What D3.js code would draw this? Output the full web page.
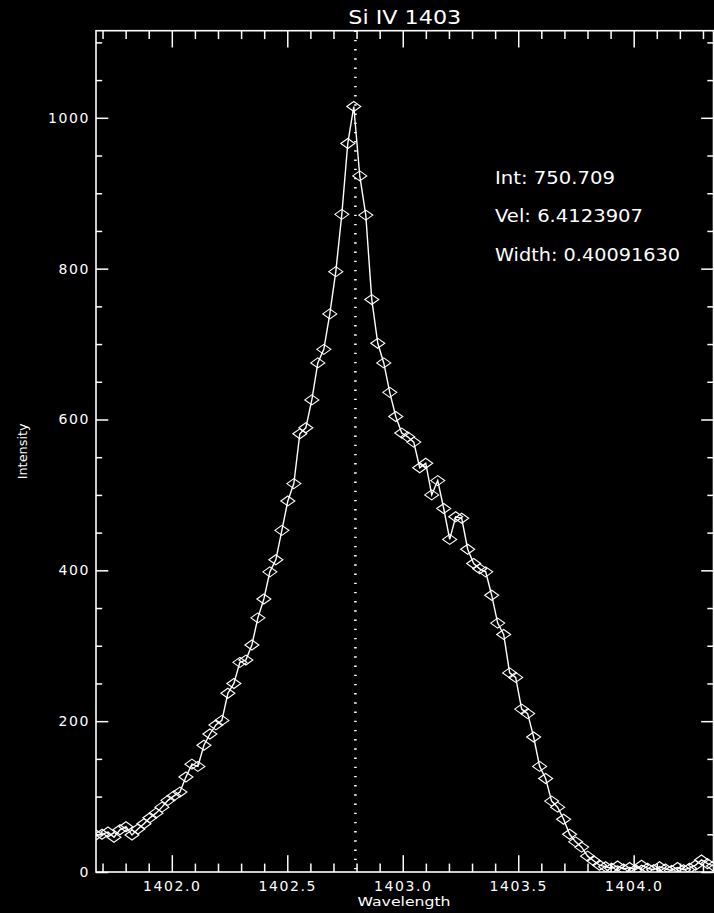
<!DOCTYPE html>
<html>
<head>
<meta charset="utf-8">
<script src="https://cdn.jsdelivr.net/npm/d3@7"></script>
<style>
  html, body { margin: 0; padding: 0; background: #000; }
  svg { display: block; }
  text { font-family: "DejaVu Sans", sans-serif; fill: #fff; }
</style>
</head>
<body>
<svg id="chart" width="714" height="913"></svg>
<script>
// ---- data ----
const wavelength = [
  1401.6717, 1401.6977, 1401.7236, 1401.7496, 1401.7755, 1401.8015, 1401.8275, 1401.8534,
  1401.8794, 1401.9053, 1401.9313, 1401.9573, 1401.9832, 1402.0092, 1402.0351, 1402.0611,
  1402.0871, 1402.1130, 1402.1390, 1402.1649, 1402.1909, 1402.2169, 1402.2428, 1402.2688,
  1402.2947, 1402.3207, 1402.3467, 1402.3726, 1402.3986, 1402.4245, 1402.4505, 1402.4765,
  1402.5024, 1402.5284, 1402.5543, 1402.5803, 1402.6063, 1402.6322, 1402.6582, 1402.6841,
  1402.7101, 1402.7361, 1402.7620, 1402.7880, 1402.8139, 1402.8399, 1402.8659, 1402.8918,
  1402.9178, 1402.9437, 1402.9697, 1402.9957, 1403.0216, 1403.0476, 1403.0735, 1403.0995,
  1403.1255, 1403.1514, 1403.1774, 1403.2033, 1403.2293, 1403.2553, 1403.2812, 1403.3072,
  1403.3331, 1403.3591, 1403.3851, 1403.4110, 1403.4370, 1403.4629, 1403.4889, 1403.5149,
  1403.5408, 1403.5668, 1403.5927, 1403.6187, 1403.6447, 1403.6706, 1403.6966, 1403.7225,
  1403.7485, 1403.7745, 1403.8004, 1403.8264, 1403.8523, 1403.8783, 1403.9043, 1403.9302,
  1403.9562, 1403.9821, 1404.0081, 1404.0341, 1404.0600, 1404.0860, 1404.1119, 1404.1379,
  1404.1639, 1404.1898, 1404.2158, 1404.2417, 1404.2677, 1404.2937, 1404.3196, 1404.3456
];
const intensity = [
  49, 50, 53, 46, 56, 60, 49, 57, 64, 72, 78, 86, 95, 101, 106, 126,
  143, 140, 168, 183, 195, 201, 237, 250, 278, 281, 301, 337, 362, 398, 414, 453,
  492, 515, 581, 589, 626, 675, 693, 740, 796, 872, 966, 1015,
  923, 871, 759, 701, 675, 636, 604, 582, 577, 570, 536, 542, 500, 519, 482, 441,
  471, 469, 428, 409, 402, 398, 367, 330, 315, 264, 258, 216, 210, 179, 140, 124,
  94, 86, 70, 50, 40, 33, 21, 15, 9,
  7, 5, 8, 4, 6, 3, 9, 5, 3, 7, 4, 2, 6, 3, 5, 9, 16, 11, 8
];
const lineCenter = 1402.795;

const xDomain = [1401.6717, 1404.3456];
const yDomain = [0, 1115.5];
const xMajorTicks = [1402.0, 1402.5, 1403.0, 1403.5, 1404.0];
const xTickLabels = ["1402.0", "1402.5", "1403.0", "1403.5", "1404.0"];
const xMinorTicks = [1401.7, 1401.8, 1401.9, 1402.1, 1402.2, 1402.3, 1402.4, 1402.6, 1402.7, 1402.8, 1402.9,
                     1403.1, 1403.2, 1403.3, 1403.4, 1403.6, 1403.7, 1403.8, 1403.9, 1404.1, 1404.2, 1404.3];
const yMajorTicks = [0, 200, 400, 600, 800, 1000];
const yTickLabels = ["0", "200", "400", "600", "800", "1000"];
const yMinorTicks = [50, 100, 150, 250, 300, 350, 450, 500, 550, 650, 700, 750, 850, 900, 950, 1050, 1100];

const titleText = "Si IV 1403";
const xTitle = "Wavelength";
const yTitle = "Intensity";
const annotations = ["Int: 750.709", "Vel: 6.4123907", "Width: 0.40091630"];

// ---- layout ----
const L = 96, R = 713.5, T = 30.7, B = 872;
const svg = d3.select("#chart");
svg.append("rect").attr("width", 714).attr("height", 913).attr("fill", "#000");

const x = d3.scaleLinear().domain(xDomain).range([L, R]);
const y = d3.scaleLinear().domain(yDomain).range([B, T]);

const xTickLen = 16.8, yTickLen = 12.3;

function styleAxis(g) {
  g.select(".domain").remove();
  g.selectAll("line").attr("stroke", "#fff").attr("stroke-width", 1.5);
  g.selectAll("text").attr("fill", "#fff").style("font-size", "14px")
    .style("font-family", "'DejaVu Sans', sans-serif").style("letter-spacing", "1.6px");
}

// bottom
svg.append("g").attr("transform", `translate(0,${B})`)
  .call(d3.axisBottom(x).tickValues(xMajorTicks).tickSize(-xTickLen).tickPadding(9)
        .tickFormat((d, i) => xTickLabels[i]))
  .call(styleAxis);
svg.append("g").attr("transform", `translate(0,${B})`)
  .call(d3.axisBottom(x).tickValues(xMinorTicks).tickSize(-xTickLen / 2).tickFormat(""))
  .call(styleAxis);
// top
svg.append("g").attr("transform", `translate(0,${T})`)
  .call(d3.axisTop(x).tickValues(xMajorTicks).tickSize(-xTickLen).tickFormat(""))
  .call(styleAxis);
svg.append("g").attr("transform", `translate(0,${T})`)
  .call(d3.axisTop(x).tickValues(xMinorTicks).tickSize(-xTickLen / 2).tickFormat(""))
  .call(styleAxis);
// left
svg.append("g").attr("transform", `translate(${L},0)`)
  .call(d3.axisLeft(y).tickValues(yMajorTicks).tickSize(-yTickLen).tickPadding(6)
        .tickFormat((d, i) => yTickLabels[i]))
  .call(styleAxis);
svg.append("g").attr("transform", `translate(${L},0)`)
  .call(d3.axisLeft(y).tickValues(yMinorTicks).tickSize(-yTickLen / 2).tickFormat(""))
  .call(styleAxis);
// right
svg.append("g").attr("transform", `translate(${R},0)`)
  .call(d3.axisRight(y).tickValues(yMajorTicks).tickSize(-yTickLen).tickFormat(""))
  .call(styleAxis);
svg.append("g").attr("transform", `translate(${R},0)`)
  .call(d3.axisRight(y).tickValues(yMinorTicks).tickSize(-yTickLen / 2).tickFormat(""))
  .call(styleAxis);

// frame
svg.append("rect").attr("x", L).attr("y", T).attr("width", R - L).attr("height", B - T)
  .attr("fill", "none").attr("stroke", "#fff").attr("stroke-width", 1.6);

// clip
svg.append("clipPath").attr("id", "plotclip").append("rect")
  .attr("x", L).attr("y", T).attr("width", R - L).attr("height", B - T);
const plot = svg.append("g").attr("clip-path", "url(#plotclip)");

// dotted line at fitted centre
plot.append("line")
  .attr("x1", x(lineCenter)).attr("x2", x(lineCenter))
  .attr("y1", T).attr("y2", B)
  .attr("stroke", "#fff").attr("stroke-width", 2.6)
  .attr("stroke-dasharray", "1.4 7.8");

const pts = wavelength.map((w, i) => [w, intensity[i]]);

plot.append("path")
  .attr("d", d3.line().x(d => x(d[0])).y(d => y(d[1]))(pts))
  .attr("fill", "none").attr("stroke", "#fff").attr("stroke-width", 1.4);

const hw = 7, hh = 5;
plot.selectAll("path.sym").data(pts).join("path")
  .attr("class", "sym")
  .attr("d", d => {
    const cx = x(d[0]), cy = y(d[1]);
    return `M${cx - hw},${cy}L${cx},${cy - hh}L${cx + hw},${cy}L${cx},${cy + hh}Z`;
  })
  .attr("fill", "none").attr("stroke", "#fff").attr("stroke-width", 1.1);

// titles
svg.append("text").attr("x", (L + R) / 2).attr("y", 24)
  .attr("text-anchor", "middle").style("font-size", "19px")
  .attr("textLength", 113).attr("lengthAdjust", "spacingAndGlyphs")
  .text(titleText);

svg.append("text").attr("x", 404).attr("y", 906)
  .attr("text-anchor", "middle").style("font-size", "12px")
  .attr("textLength", 93).attr("lengthAdjust", "spacingAndGlyphs")
  .text(xTitle);

svg.append("text").attr("transform", `translate(27,${(T + B) / 2}) rotate(-90)`)
  .attr("text-anchor", "middle").style("font-size", "12px")
  .attr("textLength", 56).attr("lengthAdjust", "spacingAndGlyphs")
  .text(yTitle);

// annotations
const annY = [184, 222, 260.5];
const annLen = [120, 148, 185];
annotations.forEach((t, i) => {
  svg.append("text").attr("x", 495).attr("y", annY[i])
    .style("font-size", "17px")
    .attr("textLength", annLen[i]).attr("lengthAdjust", "spacingAndGlyphs")
    .text(t);
});
</script>
</body>
</html>
